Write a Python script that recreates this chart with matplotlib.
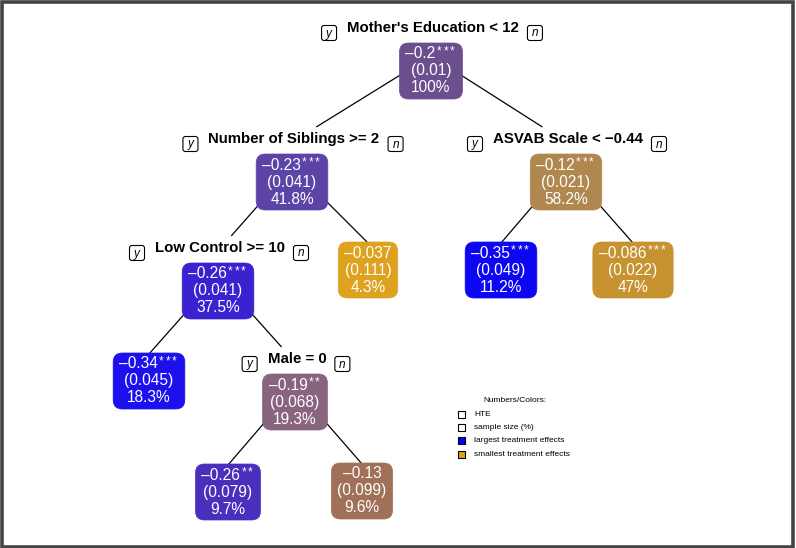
import matplotlib
matplotlib.use("Agg")
import matplotlib.pyplot as plt
from matplotlib.patches import FancyBboxPatch, Rectangle

plt.rcParams['font.family'] = ['Liberation Sans', 'DejaVu Sans']

# ---------------- data ----------------
node_hte = [-0.2, -0.23, -0.12, -0.26, -0.037, -0.35, -0.086, -0.34, -0.19, -0.26, -0.13]
node_se = [0.01, 0.041, 0.021, 0.041, 0.111, 0.049, 0.022, 0.045, 0.068, 0.079, 0.099]
node_stars = ["***", "***", "***", "***", "", "***", "***", "***", "**", "**", ""]
node_pct = [100, 41.8, 58.2, 37.5, 4.3, 11.2, 47, 18.3, 19.3, 9.7, 9.6]
node_parent = [None, 0, 0, 1, 1, 2, 2, 3, 3, 8, 8]
split_labels = {0: "Mother's Education < 12",
                1: "Number of Siblings >= 2",
                2: "ASVAB Scale < \u22120.44",
                3: "Low Control >= 10",
                8: "Male = 0"}
legend_title = "Numbers/Colors:"
legend_labels = ["HTE", "sample size (%)", "largest treatment effects", "smallest treatment effects"]

# ---------------- layout / style ----------------
W, H = 796, 548
node_xy = [(431, 71), (292, 182), (566, 182), (218, 291), (368, 270), (501, 270),
           (633, 270), (149, 381), (295, 402), (228, 492), (362, 491)]
node_colors = ["#6a4e8e", "#5b44a6", "#b18750", "#3b22d0", "#dfa21f", "#0c06f2",
               "#c69330", "#1c10ec", "#88647f", "#4a2ebc", "#a07058"]
legend_colors = ["white", "white", "#0000ff", "#dfa21f"]

fig = plt.figure(figsize=(W / 100, H / 100), dpi=100)
ax = fig.add_axes([0, 0, 1, 1])
ax.set_xlim(0, W)
ax.set_ylim(H, 0)
ax.axis("off")

internal = set(split_labels.keys())

# edges
for i, p in enumerate(node_parent):
    if p is None:
        continue
    px, py = node_xy[p]
    cx, cy = node_xy[i]
    x0, y0 = px, py - 15
    if i in internal:
        tx, ty = cx, cy - 40
        yend = cy - 55
        t = (yend - y0) / (ty - y0)
        xe, ye = x0 + t * (tx - x0), yend
    else:
        xe, ye = cx, cy - 27
    ax.plot([x0, xe], [y0, ye], color="black", lw=0.9, zorder=1, solid_capstyle="butt")

fig.canvas.draw()
renderer = fig.canvas.get_renderer()


def width_px(t):
    return t.get_window_extent(renderer).width


def fmt(v):
    return ("%g" % v).replace("-", "\u2013")


FS = 11.2
STAR_STEP = 6.6
# nodes
for i, (x, y) in enumerate(node_xy):
    l1 = fmt(node_hte[i])
    l2 = "(%g)" % node_se[i]
    l3 = "%g%%" % node_pct[i]
    t1 = ax.text(x, y - 17, l1, ha="left", va="center", fontsize=FS, color="white", zorder=4)
    t2 = ax.text(x, y, l2, ha="center", va="center", fontsize=FS, color="white", zorder=4)
    t3 = ax.text(x, y + 17, l3, ha="center", va="center", fontsize=FS, color="white", zorder=4)
    w1 = width_px(t1)
    ns = len(node_stars[i])
    ws = ns * STAR_STEP + (1 if ns else 0)
    left = x - (w1 + ws) / 2
    t1.set_x(left)
    for k in range(ns):
        ax.text(left + w1 + 1 + k * STAR_STEP, y - 20, "*", ha="left", va="center",
                fontsize=8.5, color="white", zorder=4)
    wmax = max(w1 + ws, width_px(t2), width_px(t3))
    bw = max(wmax + 12, 56)
    bh = 56
    r = 9
    box = FancyBboxPatch((x - bw / 2 + r, y - bh / 2 + r), bw - 2 * r, bh - 2 * r,
                         boxstyle="round,pad=%g" % r, fc=node_colors[i], ec=node_colors[i],
                         lw=0.5, zorder=3)
    ax.add_patch(box)

# split labels with y/n boxes
for i, lab in split_labels.items():
    x, y = node_xy[i]
    ly = y - 43
    t = ax.text(x + 2, ly, lab, ha="center", va="center", fontsize=10.8, fontweight="bold",
                color="black", zorder=4)
    lw_ = width_px(t)
    lx0, lx1 = x + 2 - lw_ / 2, x + 2 + lw_ / 2
    for xx, s in ((lx0 - 18, "y"), (lx1 + 16, "n")):
        ax.add_patch(FancyBboxPatch((xx - 5, ly + 5 - 5), 10, 10,
                                    boxstyle="round,pad=2.5", fc="white", ec="black",
                                    lw=0.8, zorder=4))
        ax.text(xx, ly + 5.5, s, ha="center", va="center", fontsize=8.5, style="italic",
                color="black", zorder=5)

# legend
ax.text(515, 400, legend_title, ha="center", va="center", fontsize=6, color="black")
for k, (lab, c) in enumerate(zip(legend_labels, legend_colors)):
    yy = 414 + k * 13.4
    ax.add_patch(Rectangle((457.5, yy - 3.5), 7, 7, fc=c, ec="black", lw=0.8, zorder=3))
    ax.text(474, yy, lab, ha="left", va="center", fontsize=6, color="black")

# outer frame
fig.patches.append(Rectangle((0.002, 0.002), 0.994, 0.995, transform=fig.transFigure,
                             fill=False, ec="#444444", lw=2.6))

fig.savefig("out.png", dpi=100, facecolor="white")
